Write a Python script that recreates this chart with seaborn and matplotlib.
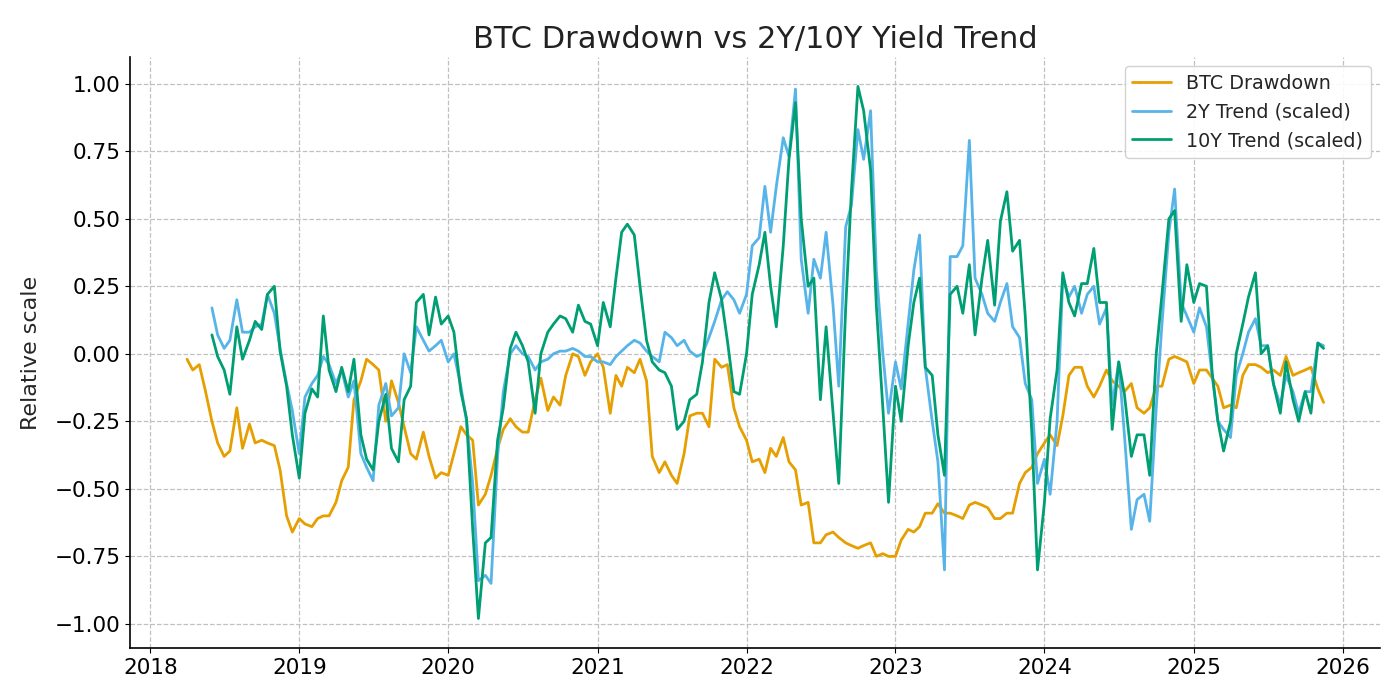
import matplotlib
matplotlib.use('Agg')
import matplotlib.pyplot as plt
import matplotlib.dates as mdates
import pandas as pd
import seaborn as sns

# semi-monthly readings, BTC from 2018-04-01, yield trends from 2018-06-01
btc_drawdown = [
    -0.02, -0.06, -0.04, -0.13, -0.25, -0.33, -0.38, -0.36, -0.20, -0.35,
    -0.26, -0.33, -0.32, -0.33, -0.34, -0.43, -0.60, -0.66, -0.61, -0.63,
    -0.64, -0.61, -0.60, -0.60, -0.55, -0.47, -0.42, -0.17, -0.10, -0.02,
    -0.04, -0.06, -0.25, -0.10, -0.18, -0.27, -0.37, -0.39, -0.29, -0.38,
    -0.46, -0.44, -0.45, -0.37, -0.27, -0.30, -0.32, -0.56, -0.52, -0.45,
    -0.35, -0.28, -0.24, -0.27, -0.29, -0.29, -0.17, -0.09, -0.21, -0.16,
    -0.19, -0.08, 0.00, -0.01, -0.08, -0.03, 0.00, -0.05, -0.22, -0.08,
    -0.12, -0.05, -0.07, -0.02, -0.10, -0.38, -0.44, -0.40, -0.45, -0.48,
    -0.37, -0.23, -0.22, -0.22, -0.27, -0.02, -0.05, -0.04, -0.20, -0.27,
    -0.32, -0.40, -0.39, -0.44, -0.35, -0.38, -0.31, -0.40, -0.43, -0.56,
    -0.55, -0.70, -0.70, -0.67, -0.66, -0.68, -0.70, -0.71, -0.72, -0.71,
    -0.70, -0.75, -0.74, -0.75, -0.75, -0.69, -0.65, -0.66, -0.64, -0.59,
    -0.59, -0.555, -0.59, -0.59, -0.60, -0.61, -0.56, -0.55, -0.56, -0.57,
    -0.61, -0.61, -0.59, -0.59, -0.48, -0.44, -0.42, -0.37, -0.33, -0.30,
    -0.34, -0.23, -0.08, -0.05, -0.05, -0.12, -0.16, -0.12, -0.06, -0.10,
    -0.12, -0.14, -0.11, -0.20, -0.22, -0.20, -0.12, -0.12, -0.02, -0.01,
    -0.02, -0.03, -0.11, -0.06, -0.06, -0.09, -0.12, -0.20, -0.19, -0.20,
    -0.08, -0.04, -0.04, -0.05, -0.07, -0.06, -0.08, -0.01, -0.08, -0.07,
    -0.06, -0.05, -0.13, -0.18,
]

trend_2y = [
    0.17, 0.07, 0.02, 0.05, 0.20, 0.08, 0.08, 0.10, 0.11, 0.22,
    0.15, 0.02, -0.11, -0.21, -0.37, -0.16, -0.11, -0.08, -0.01, -0.04,
    -0.11, -0.06, -0.16, -0.10, -0.37, -0.42, -0.47, -0.19, -0.11, -0.23,
    -0.20, 0.00, -0.07, 0.10, 0.05, 0.01, 0.03, 0.05, -0.03, 0.00,
    -0.12, -0.25, -0.48, -0.84, -0.82, -0.85, -0.38, -0.14, 0.00, 0.03,
    0.00, -0.01, -0.06, -0.03, -0.02, 0.00, 0.01, 0.01, 0.02, 0.01,
    -0.01, -0.01, -0.03, -0.03, -0.04, -0.01, 0.01, 0.03, 0.05, 0.04,
    0.01, -0.01, -0.03, 0.08, 0.06, 0.03, 0.05, 0.01, -0.01, 0.00,
    0.06, 0.12, 0.20, 0.23, 0.20, 0.15, 0.22, 0.40, 0.43, 0.62,
    0.45, 0.62, 0.80, 0.73, 0.98, 0.35, 0.15, 0.35, 0.28, 0.45,
    0.18, -0.12, 0.47, 0.55, 0.83, 0.72, 0.90, 0.31, 0.00, -0.22,
    -0.03, -0.13, 0.11, 0.31, 0.44, -0.05, -0.25, -0.40, -0.80, 0.36,
    0.36, 0.40, 0.79, 0.28, 0.22, 0.15, 0.12, 0.19, 0.26, 0.10,
    0.06, -0.11, -0.17, -0.48, -0.39, -0.52, -0.25, 0.28, 0.21, 0.25,
    0.15, 0.22, 0.25, 0.11, 0.17, -0.19, -0.03, -0.30, -0.65, -0.54,
    -0.52, -0.62, -0.20, 0.11, 0.45, 0.61, 0.19, 0.14, 0.08, 0.17,
    0.10, -0.08, -0.25, -0.28, -0.31, -0.08, 0.00, 0.08, 0.13, 0.03,
    0.03, -0.11, -0.19, -0.08, -0.14, -0.22, -0.14, -0.14, 0.04, 0.03,
]

trend_10y = [
    0.07, -0.01, -0.06, -0.15, 0.10, -0.02, 0.05, 0.12, 0.09, 0.22,
    0.25, 0.01, -0.12, -0.30, -0.46, -0.22, -0.13, -0.16, 0.14, -0.06,
    -0.14, -0.05, -0.14, -0.02, -0.30, -0.39, -0.43, -0.25, -0.15, -0.35,
    -0.40, -0.17, -0.12, 0.19, 0.22, 0.07, 0.21, 0.11, 0.14, 0.08,
    -0.14, -0.24, -0.65, -0.98, -0.70, -0.68, -0.32, -0.20, 0.02, 0.08,
    0.03, -0.03, -0.22, 0.00, 0.08, 0.11, 0.14, 0.13, 0.08, 0.18,
    0.12, 0.11, 0.03, 0.19, 0.10, 0.28, 0.45, 0.48, 0.44, 0.25,
    0.05, -0.03, -0.06, -0.07, -0.12, -0.28, -0.25, -0.17, -0.15, -0.03,
    0.19, 0.30, 0.20, 0.05, -0.14, -0.15, 0.00, 0.22, 0.33, 0.45,
    0.25, 0.10, 0.40, 0.72, 0.93, 0.50, 0.25, 0.28, -0.17, 0.10,
    -0.22, -0.48, 0.17, 0.60, 0.99, 0.90, 0.68, 0.18, -0.20, -0.55,
    -0.12, -0.25, 0.03, 0.19, 0.28, -0.05, -0.08, -0.30, -0.45, 0.22,
    0.25, 0.15, 0.33, 0.07, 0.28, 0.42, 0.18, 0.49, 0.60, 0.38,
    0.42, 0.14, -0.29, -0.80, -0.55, -0.24, -0.06, 0.30, 0.19, 0.14,
    0.26, 0.26, 0.39, 0.19, 0.19, -0.28, -0.03, -0.15, -0.38, -0.30,
    -0.30, -0.45, 0.00, 0.22, 0.50, 0.53, 0.12, 0.33, 0.19, 0.26,
    0.25, -0.07, -0.25, -0.36, -0.25, 0.00, 0.11, 0.21, 0.30, 0.00,
    0.03, -0.11, -0.22, -0.03, -0.17, -0.25, -0.14, -0.22, 0.04, 0.02,
]

btc_dates = pd.date_range('2018-04-01', periods=len(btc_drawdown), freq='SMS')
trend_dates = pd.date_range('2018-06-01', periods=len(trend_2y), freq='SMS')

y_ticks = [-1.0, -0.75, -0.5, -0.25, 0.0, 0.25, 0.5, 0.75, 1.0]

sns.set_style('ticks')
plt.rcParams['font.family'] = ['DejaVu Sans']
plt.rcParams['axes.unicode_minus'] = True

fig, ax = plt.subplots(figsize=(14, 7), dpi=100)
fig.subplots_adjust(left=0.093, right=0.986, top=0.919, bottom=0.074)

sns.lineplot(x=btc_dates, y=btc_drawdown, ax=ax, color='#E69F00', linewidth=2, label='BTC Drawdown')
sns.lineplot(x=trend_dates, y=trend_2y, ax=ax, color='#56B4E9', linewidth=2, label='2Y Trend (scaled)')
sns.lineplot(x=trend_dates, y=trend_10y, ax=ax, color='#009E73', linewidth=2, label='10Y Trend (scaled)')

ax.set_title('BTC Drawdown vs 2Y/10Y Yield Trend', fontsize=22, color='#222222')
ax.set_ylabel('Relative scale', fontsize=16, labelpad=10)
ax.set_xlabel('')
ax.set_yticks(y_ticks)
ax.yaxis.set_major_formatter(matplotlib.ticker.FuncFormatter(lambda v, p: f'{v:.2f}'.replace('-', '\u2212')))
ax.set_ylim(-1.09, 1.10)
ax.xaxis.set_major_locator(mdates.YearLocator())
ax.xaxis.set_major_formatter(mdates.DateFormatter('%Y'))
ax.tick_params(axis='both', labelsize=15.5, colors='black')
ax.grid(True, linestyle='--', color='#c0c0c0', linewidth=0.9)
sns.despine(ax=ax)
for side in ['left', 'bottom']:
    ax.spines[side].set_color('black')
    ax.spines[side].set_linewidth(1.2)

ax.legend(loc='upper right', fontsize=13.8, framealpha=0.9)

fig.savefig('out.png', dpi=100)
